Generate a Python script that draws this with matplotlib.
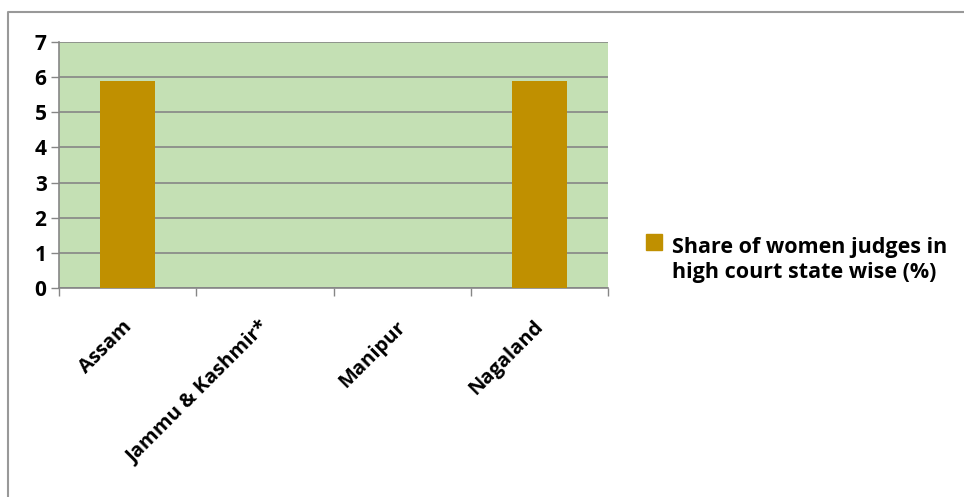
import numpy as np
import matplotlib
matplotlib.use("Agg")
import matplotlib.pyplot as plt
import matplotlib.transforms as mtransforms
from matplotlib.lines import Line2D
from matplotlib.patches import Rectangle

states = ["Assam", "Jammu & Kashmir*", "Manipur", "Nagaland"]
share = [5.88, 0, 0, 5.88]
series_name = "Share of women judges in\nhigh court state wise (%)"

C_BAR = "#c09000"
C_PLOT = "#c4e0b4"
C_GRID = "#868686"

plt.rcParams.update({"font.family": ["Open Sans", "DejaVu Sans"], "font.weight": "bold"})

fig = plt.figure(figsize=(9.64, 4.97), dpi=100)
ax = fig.add_axes([59 / 964, 1 - 288 / 497, 549 / 964, 246 / 497])
ax.set_facecolor(C_PLOT)

x = np.arange(len(states))
ax.bar(x, share, width=0.4, color=C_BAR, zorder=3)

ax.set_xlim(-0.5, len(states) - 0.5)
ax.set_ylim(0, 7)
ax.set_yticks(range(0, 8))
ax.yaxis.grid(True, color=C_GRID, lw=1.2, zorder=1)
ax.set_axisbelow(True)
ax.tick_params(axis="y", labelsize=15, length=6, color=C_GRID, width=1, pad=3)
for t in ax.get_yticklabels():
    t.set_fontweight("bold")

ax.set_xticks(x)
ax.set_xticklabels(states, rotation=45, ha="right", rotation_mode="anchor",
                   fontsize=14.5, fontweight="bold")
ax.tick_params(axis="x", which="major", length=0, pad=21)
shift = mtransforms.ScaledTranslation(-6 / 100, 0, fig.dpi_scale_trans)
for t in ax.get_xticklabels():
    t.set_transform(t.get_transform() + shift)
ax.set_xticks(np.arange(-0.5, len(states)), minor=True)
ax.tick_params(axis="x", which="minor", length=6, color=C_GRID, width=1)

for side in ("top", "right"):
    ax.spines[side].set_visible(False)
for side in ("left", "bottom"):
    ax.spines[side].set_color(C_GRID)
    ax.spines[side].set_linewidth(1.2)

# legend: swatch plus two-line label
fig.patches.append(Rectangle((646 / 964, 1 - 250 / 497), 16 / 964, 16 / 497,
                             transform=fig.transFigure, color=C_BAR))
fig.text(672 / 964, 1 - 260 / 497, series_name, fontsize=15.5, fontweight="bold",
         va="center", ha="left", linespacing=1.3)

# chart frame (left and top edges)
fig.add_artist(Line2D([7.5 / 964, 7.5 / 964, 1], [0, 1 - 11.5 / 497, 1 - 11.5 / 497],
                      transform=fig.transFigure, color="#999999", lw=1.5))

fig.savefig("out.png", dpi=100)
